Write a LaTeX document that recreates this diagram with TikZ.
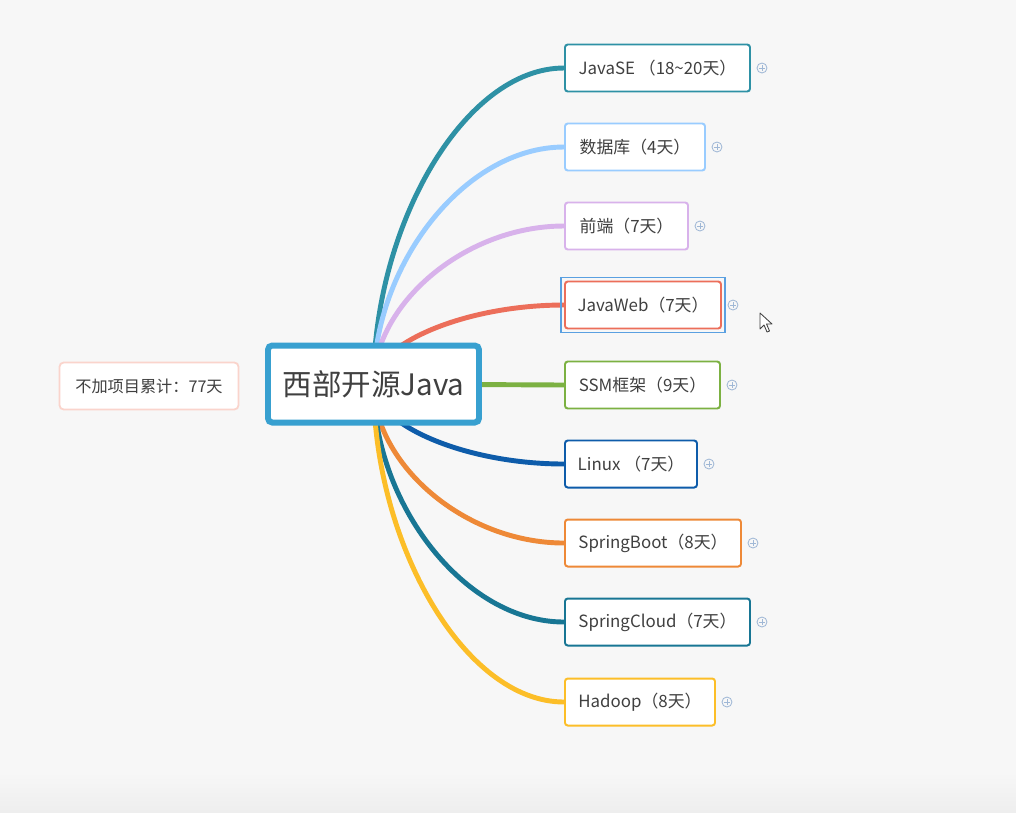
\documentclass[tikz,border=0pt]{standalone}
\usepackage{fontspec}
\setmainfont{Noto Sans CJK SC}
\usetikzlibrary{positioning, calc, backgrounds}
\definecolor{bgcol}{RGB}{247,247,247}
\definecolor{bgbot}{RGB}{238,238,238}
\definecolor{txtcol}{RGB}{64,64,64}
\definecolor{rootcol}{RGB}{56,160,208}
\definecolor{notecol}{RGB}{250,212,204}
\definecolor{secol}{RGB}{46,145,165}
\definecolor{dbcol}{RGB}{153,204,255}
\definecolor{fecol}{RGB}{216,178,235}
\definecolor{webcol}{RGB}{236,110,90}
\definecolor{ssmcol}{RGB}{124,177,66}
\definecolor{linuxcol}{RGB}{14,92,170}
\definecolor{bootcol}{RGB}{238,137,55}
\definecolor{cloudcol}{RGB}{24,118,148}
\definecolor{hadoopcol}{RGB}{252,190,40}
\definecolor{pluscol}{RGB}{160,184,214}
\definecolor{selcol}{RGB}{90,160,225}
\tikzset{
    topicbox/.style={draw, fill=white, line width=1.4pt, rounded corners=2pt, text=txtcol,
        font=\fontsize{12}{14}\selectfont, minimum height=47*0.025cm, inner sep=0pt, anchor=west},
    rootbox/.style={draw=rootcol, fill=white, line width=4.25pt, rounded corners=3pt, text=txtcol,
        font=\fontsize{21}{24}\selectfont, minimum width=211*0.025cm, minimum height=77*0.025cm, inner sep=0pt},
    notebox/.style={draw=notecol, fill=white, line width=1.3pt, rounded corners=3pt, text=txtcol,
        font=\fontsize{11.5}{14}\selectfont, minimum width=179*0.025cm, minimum height=47*0.025cm, inner sep=0pt},
    conn/.style={line width=3.5pt, line cap=round},
}

\begin{document}
\begin{tikzpicture}[x=0.025cm, y=-0.025cm]
    \useasboundingbox (0,0) rectangle (1016,812);

    % central topic and floating note
    \node[rootbox] (root) at (373.5,384) {西部开源Java};
    \node[notebox] (note) at (149,386) {不加项目累计：77天};

    % branch topics with their expand icons
    \foreach \n/\y/\w/\c/\t in {se/68/185/secol/{JavaSE （18\textasciitilde20天）},
        db/147/140/dbcol/{数据库（4天）},
        fe/226/123/fecol/{前端（7天）},
        web/305/156/webcol/{JavaWeb（7天）},
        ssm/385/155/ssmcol/{SSM框架（9天）},
        linux/464/132/linuxcol/{Linux （7天）},
        boot/543/176/bootcol/{SpringBoot（8天）},
        cloud/622/185/cloudcol/{SpringCloud（7天）},
        hadoop/702/150/hadoopcol/{Hadoop（8天）}} {
        \node[topicbox, draw=\c, minimum width=\w*0.025cm] (\n) at (564,\y) {\t};
        \coordinate (p\n) at ($(\n.east)+(11,0)$);
        \draw[pluscol, line width=0.6pt] (p\n) circle (5);
        \draw[pluscol, line width=0.6pt] (p\n) +(-3,0) -- +(3,0) (p\n) +(0,-3) -- +(0,3);
    }

    % selection frame round JavaWeb
    \draw[selcol, line width=1.2pt] ($(web.north west)+(-3,-3)$) rectangle ($(web.south east)+(3,3)$);

    % mouse pointer
    \draw[fill=white, draw=txtcol, line width=0.6pt, line join=round]
        (760,313) -- (760,329) -- (764,325) -- (767,332) -- (769.5,331) -- (766.5,324) -- (772,324) -- cycle;

    % background and curved connectors behind the boxes
    \begin{scope}[on background layer]
        \fill[bgcol] (0,0) rectangle (1016,812);
        \shade[top color=bgcol, bottom color=bgbot] (0,772) rectangle (1016,812);
        \foreach \n/\y/\c in {se/68/secol, db/147/dbcol, fe/226/fecol, web/305/webcol,
            linux/464/linuxcol, boot/543/bootcol, cloud/622/cloudcol, hadoop/702/hadoopcol} {
            \draw[conn, \c] (root.center) .. controls +(0,{0.5*(\y-384)}) and +(-100,0) .. (\n.west);
        }
        \draw[conn, ssmcol] (root.center) -- (ssm.west);
    \end{scope}
\end{tikzpicture}
\end{document}
